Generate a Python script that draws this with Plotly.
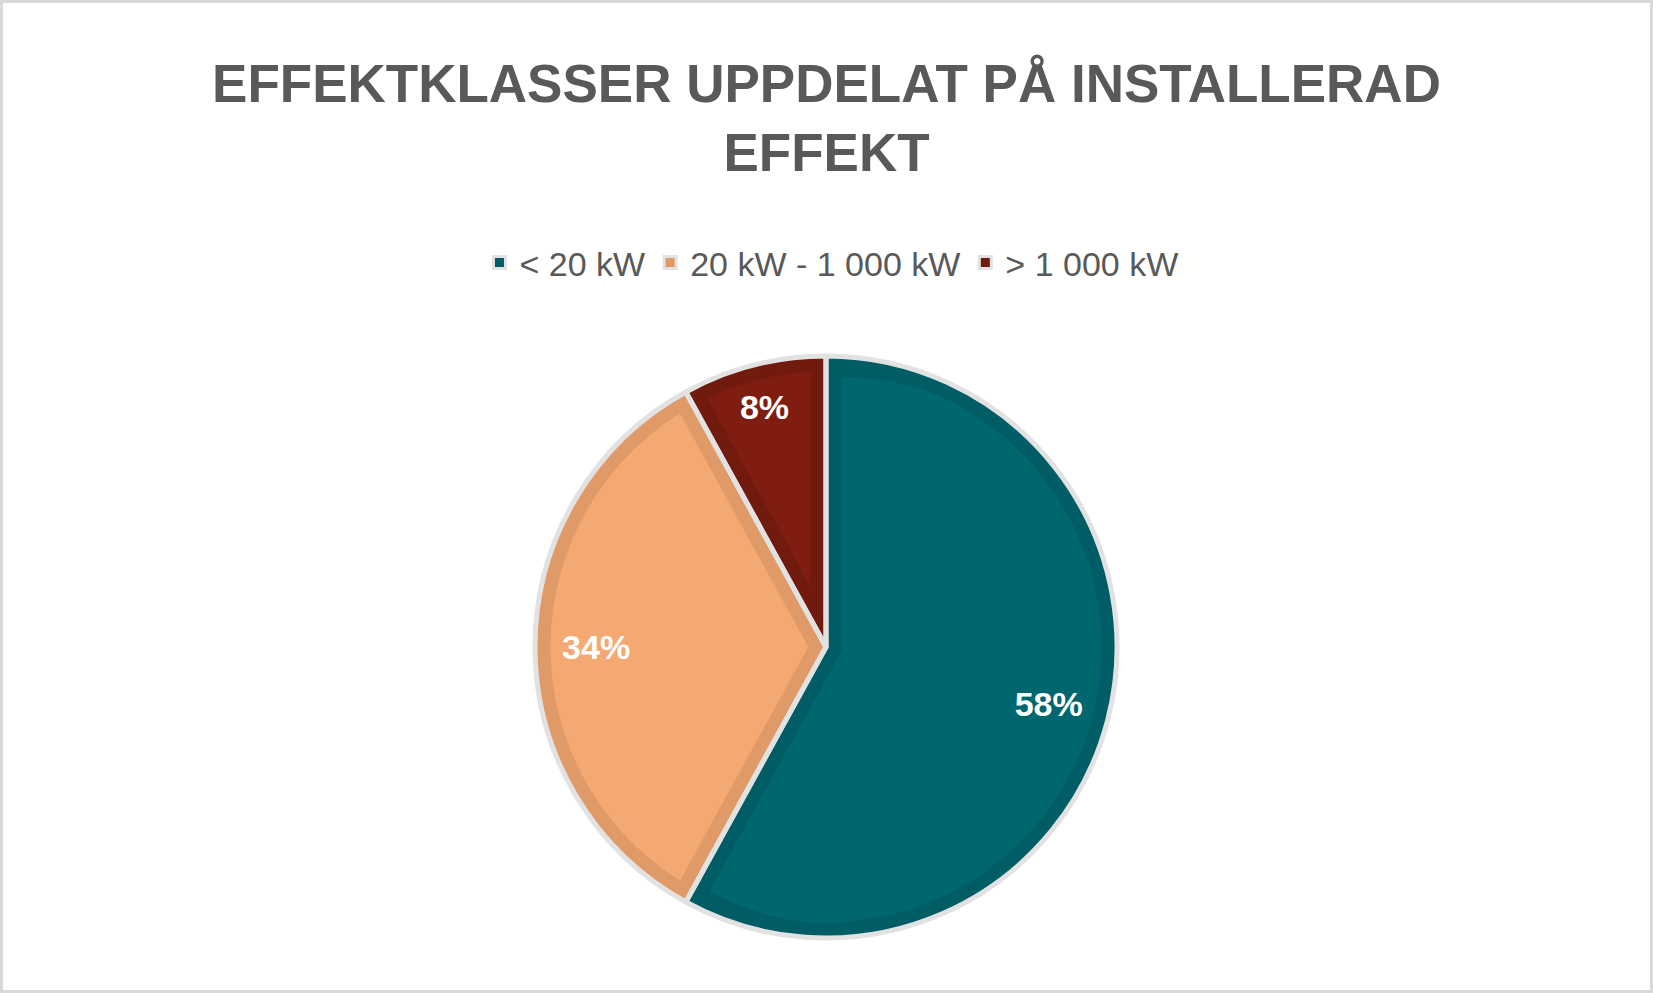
import math
import plotly.graph_objects as go

# ---------------- data ----------------
labels = ["< 20 kW", "20 kW - 1 000 kW", "> 1 000 kW"]
shares = [58, 34, 8]

title_text = "EFFEKTKLASSER UPPDELAT PÅ INSTALLERAD<br>EFFEKT"

# ---------------- style ----------------
fill_colors = ["#00666F", "#F4A972", "#7F1D10"]
band_colors = ["#005C65", "#E09A68", "#711A0E"]
edge_color = "#E2E2E2"
clear = "rgba(0,0,0,0)"
text_grey = "#595959"
title_font = "Liberation Sans, Arial, sans-serif"
legend_font = "Liberation Sans, Arial, sans-serif"
label_font = "Liberation Sans, Arial, sans-serif"

W, H = 1653, 993
CX, CY = 826, 647   # pie centre (px)
R = 291             # pie radius (px)
BAND = 15.5         # inset darker band (px)


def dom(cx, cy, r):
    return dict(x=[(cx - r) / W, (cx + r) / W],
                y=[1 - (cy + r) / H, 1 - (cy - r) / H])


common = dict(sort=False, direction="clockwise", rotation=0,
              hoverinfo="skip")
total = sum(shares)
pct_text = ["<b>%d%%</b>" % round(100 * v / total) for v in shares]

fig = go.Figure()

# 1) base pie in the darker (border) shades - also drives the legend
fig.add_trace(go.Pie(labels=labels, values=shares, domain=dom(CX, CY, R),
                     marker=dict(colors=band_colors,
                                 line=dict(color=edge_color, width=3)),
                     textinfo="none", showlegend=True, **common))

# 2) lighter inner wedge for every slice (inset from the radial edges)
cum = 0
for i, v in enumerate(shares):
    a0 = cum * 360 / total
    a1 = (cum + v) * 360 / total
    cum += v
    half = math.radians((a1 - a0) / 2)
    mid = math.radians((a0 + a1) / 2)
    t = BAND / math.sin(half)
    r2 = R - t - 1
    ax = CX + t * math.sin(mid)
    ay = CY - t * math.cos(mid)
    fig.add_trace(go.Pie(labels=[labels[i] + " ", labels[i] + "  "],
                         values=[v, total - v],
                         sort=False, direction="clockwise",
                         rotation=((a0 + 180) % 360) - 180,
                         domain=dom(ax, ay, r2), hoverinfo="skip",
                         marker=dict(colors=[fill_colors[i], clear],
                                     line=dict(width=0)),
                         textinfo="none", showlegend=False))

# 3) darker outer ring
fig.add_trace(go.Pie(labels=labels, values=shares, domain=dom(CX, CY, R),
                     hole=(R - BAND) / R,
                     marker=dict(colors=band_colors, line=dict(width=0)),
                     textinfo="none", showlegend=False, **common))

# 4) light grey separators / outline
fig.add_trace(go.Pie(labels=labels, values=shares, domain=dom(CX, CY, R),
                     marker=dict(colors=[clear] * 3,
                                 line=dict(color=edge_color, width=5)),
                     textinfo="none", showlegend=False, **common))

# 5) percentage labels (two layers to place them like the original)
for hole, keep in [(0.58, [True, True, False]),
                   (0.70, [False, False, True])]:
    txt = [s if k else "" for s, k in zip(pct_text, keep)]
    fig.add_trace(go.Pie(labels=labels, values=shares, domain=dom(CX, CY, R),
                         hole=hole, text=txt,
                         marker=dict(colors=[clear] * 3, line=dict(width=0)),
                         textinfo="text", textposition="inside",
                         insidetextorientation="horizontal",
                         textfont=dict(family=label_font, size=34,
                                       color="white"),
                         showlegend=False, **common))

fig.update_layout(
    width=W, height=H,
    margin=dict(l=0, r=0, t=0, b=0),
    paper_bgcolor="white", plot_bgcolor="white",
    title=dict(text="<b>" + title_text + "</b>", x=0.5, xanchor="center",
               xref="paper", yref="container", y=1 - 102 / H, yanchor="top",
               font=dict(family=title_font, size=53, color=text_grey)),
    legend=dict(orientation="h", x=0.503, xanchor="center",
                y=1 - 263 / H, yanchor="middle", traceorder="normal",
                font=dict(family=legend_font, size=34, color=text_grey),
                itemwidth=30),
    shapes=[dict(type="rect", xref="paper", yref="paper",
                 x0=1.5 / W, x1=1 - 1.5 / W, y0=1.5 / H, y1=1 - 1.5 / H,
                 line=dict(color="#D9D9D9", width=3),
                 fillcolor=clear, layer="above")],
)

fig.write_html("out.html", config={"displayModeBar": False},
               post_script="document.body.style.margin='0px';")
